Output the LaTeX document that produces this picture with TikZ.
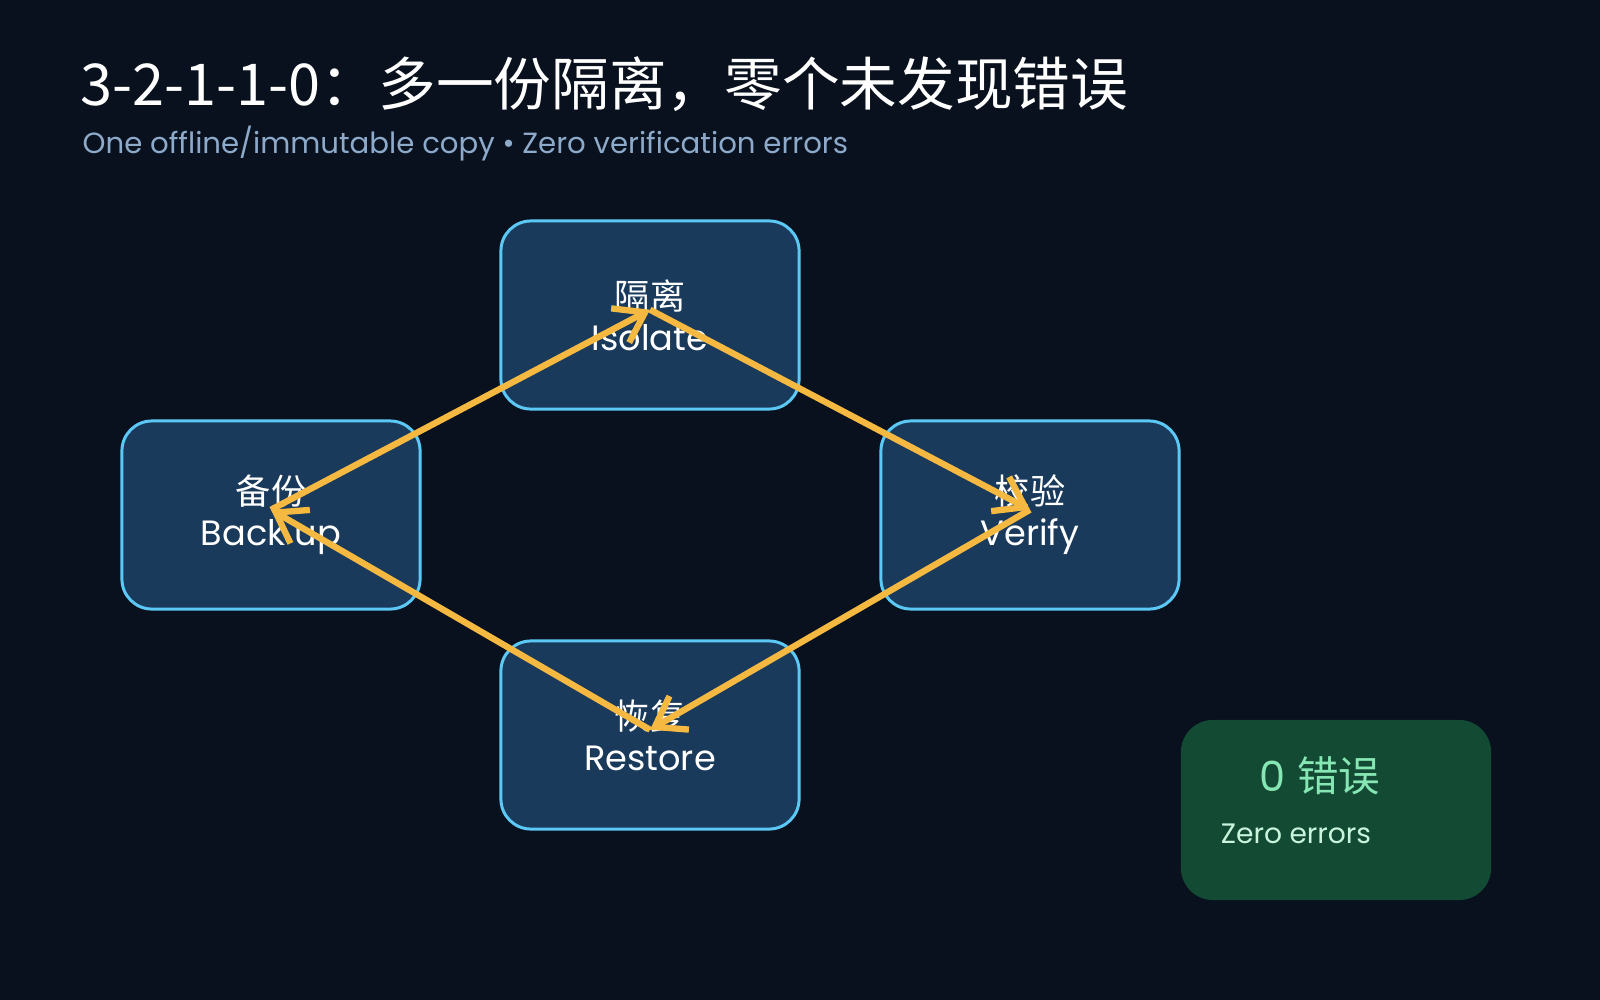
\documentclass[tikz,border=0pt]{standalone}
\usepackage{fontspec}
\setmainfont{Poppins}
\newfontfamily\cjk{Noto Sans CJK SC}
\usetikzlibrary{arrows.meta}
\definecolor{bgnavy}{HTML}{08111D}
\definecolor{boxfill}{HTML}{1A3A5C}
\definecolor{boxline}{HTML}{5BC8F5}
\definecolor{flowgold}{HTML}{F5B840}
\definecolor{okfill}{HTML}{134A34}
\definecolor{oktext}{HTML}{86E6B4}
\definecolor{oksub}{HTML}{C8F5DC}
\definecolor{subgrey}{HTML}{8EAACB}
\begin{document}
\begin{tikzpicture}[x=0.01cm,y=-0.01cm,
  stage/.style={draw=boxline,fill=boxfill,line width=0.85pt,rounded corners=0.3cm,
    minimum width=2.98cm,minimum height=1.88cm,align=center,text=white,
    font=\fontsize{10}{11.7}\selectfont},
  flow/.style={draw=flowgold,line width=1.8pt,-{Straight Barb[length=8pt,width=11pt]}}]
\fill[bgnavy] (0,0) rectangle (1600,1000);
\node[anchor=west,inner sep=0,text=white,font=\fontsize{16.4}{20}\cjk] (title) at (80,84)
  {3-2-1-1-0：多一份隔离，零个未发现错误};
\node[anchor=west,inner sep=0,text=subgrey,font=\fontsize{8.3}{10}\selectfont] (subtitle) at (82,144)
  {One offline/immutable copy • Zero verification errors};
\node[stage] (isolate) at (650,315) {{\cjk 隔离}\\Isolate};
\node[stage] (backup) at (271,515) {{\cjk 备份}\\Back up};
\node[stage] (verify) at (1030,515) {{\cjk 校验}\\Verify};
\node[stage] (restore) at (650,735) {{\cjk 恢复}\\Restore};
\draw[flow] ([yshift=1.5pt]backup.center) -- ([yshift=1.5pt]isolate.center);
\draw[flow] ([yshift=1.5pt]isolate.center) -- ([yshift=1.5pt]verify.center);
\draw[flow] ([yshift=1.5pt]verify.center) -- ([yshift=1.5pt]restore.center);
\draw[flow] ([yshift=1.5pt]restore.center) -- ([yshift=1.5pt]backup.center);
\node[fill=okfill,rounded corners=0.32cm,minimum width=3.1cm,minimum height=1.8cm] (zerobox) at (1336,810) {};
\node[text=oktext,font=\fontsize{11.8}{14}\selectfont] (zerocount) at (1320,776) {0 {\cjk 错误}};
\node[text=oksub,font=\fontsize{8}{10}\selectfont] (zerolabel) at (1296,834) {Zero errors};
\end{tikzpicture}
\end{document}
